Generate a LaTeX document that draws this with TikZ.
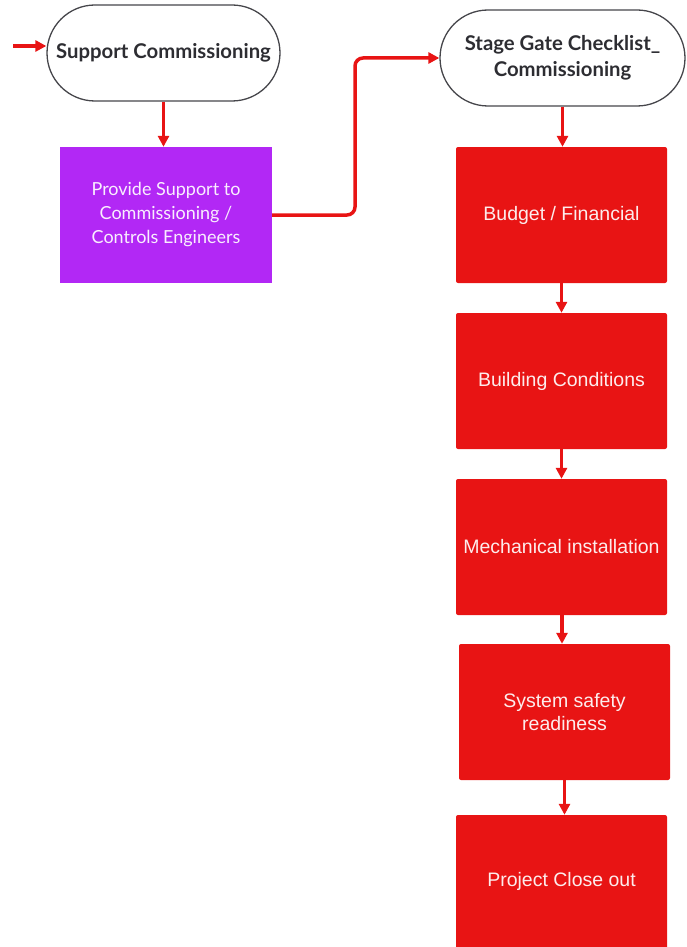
\documentclass[tikz,border=0pt]{standalone}
\usepackage{fontspec}
\setmainfont{Lato}
\newfontfamily\arialfont{Liberation Sans}
\usetikzlibrary{arrows.meta,shapes.misc}
\definecolor{flowred}{RGB}{232,20,20}
\definecolor{flowpurple}{RGB}{178,40,245}
\definecolor{outline}{RGB}{70,70,75}
\definecolor{textgray}{RGB}{45,45,50}
\tikzset{
  terminal/.style={rounded rectangle, draw=outline, line width=1.3pt, fill=white,
    minimum width=#1, minimum height=96pt, inner sep=0pt,
    font=\fontsize{20.3}{26}\selectfont\bfseries, text=textgray, align=center},
  purplebox/.style={rectangle, fill=flowpurple, minimum width=212pt, minimum height=136pt,
    inner sep=0pt, text=white!92!flowpurple, align=center,
    font=\fontsize{18}{24}\selectfont},
  redbox/.style={rectangle, rounded corners=2pt, fill=flowred, minimum width=211pt,
    minimum height=136pt, inner sep=0pt, text=white!92!flowred, align=center,
    font=\arialfont\fontsize{19.5}{23}\selectfont},
  flow/.style={draw=flowred, line width=3.5pt,
    -{Triangle[length=11pt,width=11pt]}},
}
\begin{document}
\begin{tikzpicture}[x=1pt,y=-1pt]
\useasboundingbox (0,0) rectangle (686,947);
\begin{scope}
\clip (0,0) rectangle (686,947);
% left column
\node[terminal=233pt] (start) at (163.5,53) {Support Commissioning};
\node[purplebox] (support) at (166,215) {Provide Support to\\Commissioning /\\Controls Engineers};
% right column
\node[terminal=245pt] (gate) at (562.5,58) {Stage Gate Checklist\_\\Commissioning};
\node[redbox] (budget) at (561.5,215) {Budget / Financial};
\node[redbox] (building) at (561.5,381) {Building Conditions};
\node[redbox] (mech) at (561.5,547) {Mechanical installation};
\node[redbox] (safety) at (564.5,712) {System safety\\readiness};
\node[redbox] (close) at (561.5,883) {};
\node[font=\arialfont\fontsize{19.5}{23}\selectfont, text=white!92!flowred] (closetext) at (561.5,881) {Project Close out};
% entry connector
\coordinate (entry) at (13,46);
\draw[flow] (entry) -- (start.west |- entry);
% connectors
\draw[flow] (start.south) -- (support.north -| start.south);
\draw[flow, rounded corners=8pt] (support.east) -- (355,215) -- (355,58) -- (gate.west);
\draw[flow] (gate.south) -- (budget.north -| gate.south);
\draw[flow] (budget.south) -- (building.north);
\draw[flow] (building.south) -- (mech.north);
\draw[flow] (mech.south -| 562,0) -- (safety.north -| 562,0);
\draw[flow] (safety.south) -- (close.north -| safety.south);
\end{scope}
\end{tikzpicture}
\end{document}
